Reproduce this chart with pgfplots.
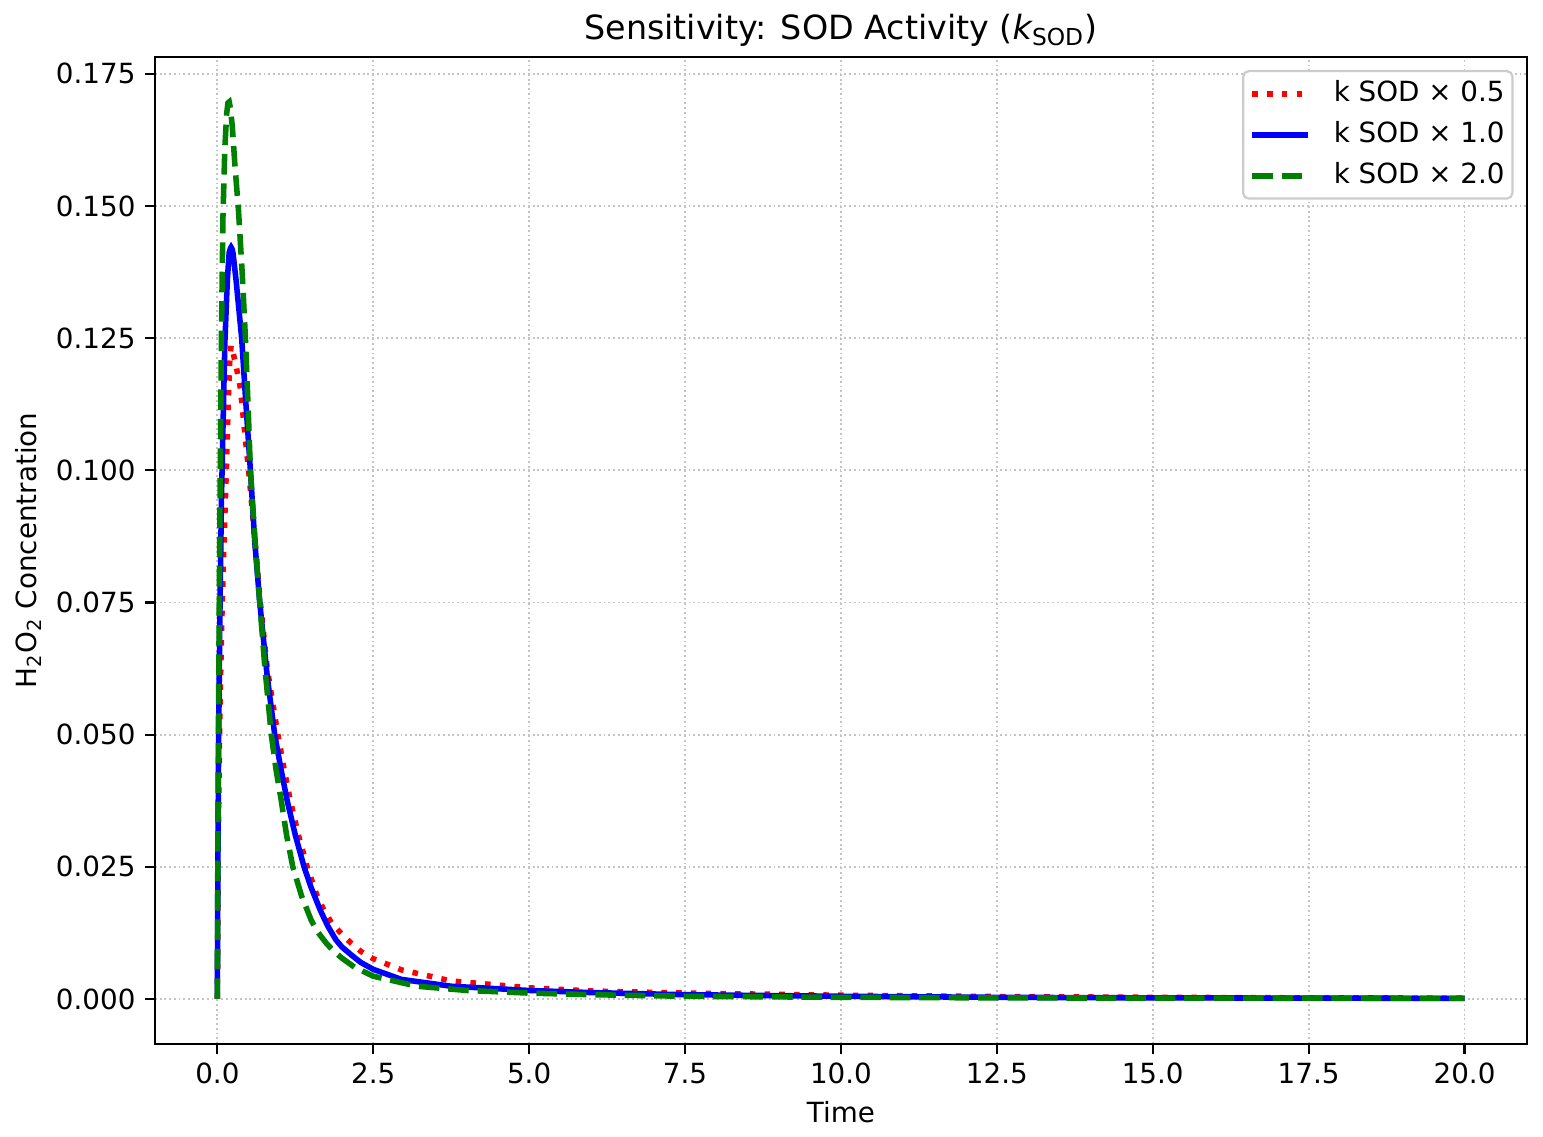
\documentclass[border=0pt]{standalone}
\usepackage{fontspec}
\setmainfont{DejaVu Sans}
\usepackage{pgfplots}
\pgfplotsset{compat=1.18}
\definecolor{mplgreen}{RGB}{0,128,0}
\definecolor{gridgray}{HTML}{C4C4C4}
\definecolor{legedge}{HTML}{CCCCCC}
\begin{document}
\begin{tikzpicture}
\path[use as bounding box] (-55.8bp,-33.5bp) rectangle (499.7bp,375.8bp);
\begin{axis}[
  at={(0,0)}, anchor=south west,
  scale only axis,
  width=493.9bp, height=355.3bp,
  xmin=-1, xmax=21,
  ymin=-0.0085, ymax=0.1782,
  xtick={0,2.5,...,20},
  ytick={0,0.025,...,0.175},
  tick align=outside,
  major tick length=3.5bp,
  every tick/.style={black, line width=0.8bp},
  axis line style={line width=0.8bp},
  tick pos=left,
  grid=major,
  major grid style={gridgray, line width=0.65bp, dash pattern=on 0.65bp off 1.05bp},
  /pgf/number format/assume math mode=true,
  ticklabel style={font=\fontsize{10bp}{12bp}\selectfont},
  xticklabel style={/pgf/number format/.cd, fixed, fixed zerofill, precision=1},
  yticklabel style={/pgf/number format/.cd, fixed, fixed zerofill, precision=3},
  scaled y ticks=false,
  title={Sensitivity: SOD Activity ({\itshape k}\textsubscript{SOD})},
  title style={font=\fontsize{12bp}{14bp}\selectfont, at={(axis description cs:0.5,1)}, anchor=center, yshift=3.7bp},
  xlabel={Time},
  xlabel style={font=\fontsize{10bp}{12bp}\selectfont, at={(axis description cs:0.5,0)}, anchor=center, yshift=-24.5bp},
  ylabel={H\textsubscript{2}O\textsubscript{2} Concentration},
  ylabel style={font=\fontsize{10bp}{12bp}\selectfont, at={([xshift=-45.7bp]axis description cs:0,0.5)}, anchor=center},
  legend style={at={(axis description cs:1,1)}, anchor=north east, xshift=-4.8bp, yshift=-4.7bp,
    draw=legedge, line width=0.8bp, rounded corners=2bp,
    font=\fontsize{10bp}{12bp}\selectfont, row sep=0.5bp, column sep=7.8bp, inner xsep=2.3bp, inner ysep=1bp,
    nodes={inner xsep=0.5bp, inner ysep=2.2bp, text height=7.6bp, text depth=2.3bp}},
  legend cell align=left,
  legend image code/.code={\draw[#1] (0bp,0bp) -- (20bp,0bp);},
]
\addplot[red, line width=2bp, dash pattern=on 2bp off 3.3bp] coordinates {
(0,0) (0.005,0.01) (0.01,0.02) (0.02,0.035) (0.04,0.054) (0.07,0.071) (0.1,0.084)
(0.144,0.1) (0.18,0.115) (0.2,0.121) (0.22,0.1236) (0.24,0.1228) (0.28,0.1208)
(0.33,0.118) (0.37,0.1155) (0.44,0.107) (0.51,0.099) (0.6,0.087) (0.68,0.076)
(0.8,0.0625) (0.97,0.05) (1.07,0.0435) (1.17,0.0375) (1.3,0.031) (1.44,0.025)
(1.6,0.0195) (1.7,0.017) (1.83,0.0144) (2.0,0.0122) (2.15,0.0105) (2.3,0.009)
(2.5,0.0076) (2.95,0.0055) (3.75,0.0034)
(5,0.0021) (6,0.0015) (7.5,0.0011) (10,0.0007) (12.5,0.00045) (15,0.0003)
(17.5,0.0002) (20,0.00015)
};
\addlegendentry{k SOD × 0.5}
\addplot[blue, line width=2bp] coordinates {
(0,0) (0.005,0.015) (0.01,0.028) (0.02,0.048) (0.04,0.072) (0.065,0.094) (0.09,0.108)
(0.12,0.124) (0.16,0.136) (0.19,0.1412) (0.21,0.142) (0.22,0.1422) (0.235,0.1419) (0.25,0.1412) (0.3,0.136)
(0.39,0.125) (0.45,0.114) (0.53,0.1) (0.6,0.0865) (0.68,0.075) (0.8,0.061)
(0.92,0.05) (1.02,0.0435) (1.12,0.0375) (1.25,0.031) (1.39,0.025) (1.5,0.0212)
(1.65,0.0168) (1.77,0.0138) (1.9,0.0112) (2.0,0.0098) (2.15,0.0083) (2.3,0.0069)
(2.5,0.0056) (2.95,0.0037) (3.75,0.0024)
(5,0.0016) (6,0.0012) (7.5,0.0008) (10,0.0005) (12.5,0.0003) (15,0.0002)
(17.5,0.00015) (20,0.0001)
};
\addlegendentry{k SOD × 1.0}
\addplot[mplgreen, line width=2bp, dash pattern=on 7.4bp off 3.2bp] coordinates {
(0,0) (0.005,0.018) (0.01,0.034) (0.02,0.056) (0.04,0.09) (0.064,0.124) (0.09,0.148)
(0.12,0.161) (0.15,0.1675) (0.17,0.1695) (0.19,0.1697) (0.21,0.1685) (0.24,0.165)
(0.28,0.158) (0.34,0.149) (0.4,0.137) (0.45,0.125) (0.49,0.113) (0.53,0.1)
(0.6,0.0875) (0.68,0.075) (0.76,0.063) (0.865,0.05) (0.94,0.0435) (1.025,0.0375)
(1.11,0.031) (1.21,0.025) (1.35,0.0195) (1.505,0.0149) (1.6,0.0128) (1.75,0.0105)
(1.87,0.009) (2.0,0.0077) (2.2,0.006)
(2.5,0.0043) (3.2,0.0024) (4,0.0016) (5,0.0011) (6,0.0008) (7.5,0.0005)
(10,0.0003) (12.5,0.0002) (15,0.00015) (20,0.0001)
};
\addlegendentry{k SOD × 2.0}
\end{axis}
\end{tikzpicture}
\end{document}
